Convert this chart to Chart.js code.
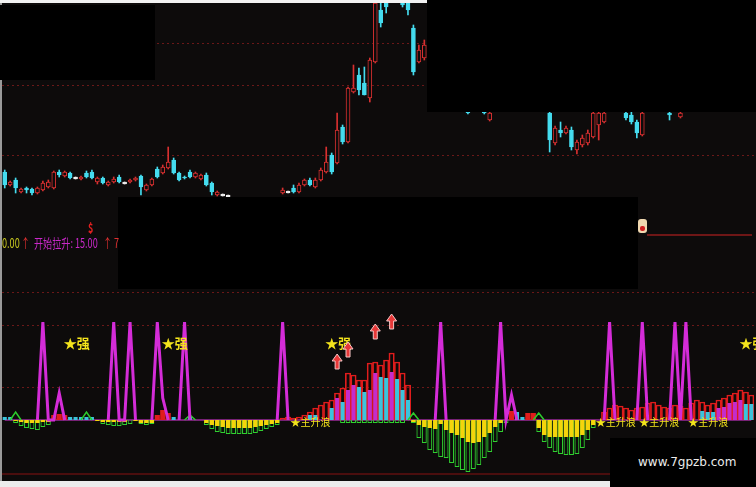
<!DOCTYPE html>
<html>
<head>
<meta charset="utf-8">
<script src="https://cdn.jsdelivr.net/npm/chart.js@4.4.0/dist/chart.umd.min.js"></script>
<style>
  body { margin: 0; width: 756px; height: 487px; overflow: hidden; position: relative; background: #0d0b0b; }
  canvas { position: absolute; left: 0; }
  #priceChart { top: 0; }
  #indChart { top: 290px; }
  .blk { position: absolute; background: #000; }
  .txt { position: absolute; font: 13px "Noto Sans CJK SC", "DejaVu Sans", sans-serif; transform: scaleX(0.7); transform-origin: left center; white-space: nowrap; line-height: 14px; }
</style>
</head>
<body>
<canvas id="priceChart" width="756" height="200"></canvas>
<canvas id="indChart" width="756" height="190"></canvas>

<!-- frame strips and redacted boxes -->
<div class="blk" style="left:0;top:0;width:427px;height:3px;background:#f2f2f2"></div>
<div class="blk" style="left:0;top:3px;width:2px;height:478px;background:#9a9a9a"></div>
<div class="blk" style="left:0;top:5px;width:155px;height:75px"></div>
<div class="blk" style="left:427px;top:0;width:329px;height:112px"></div>
<div class="blk" style="left:118px;top:197px;width:520px;height:92px"></div>

<!-- middle info line -->
<div class="txt" style="left:2px;top:236px;color:#c8c820">0.00</div>
<div class="txt" style="left:21px;top:236px;color:#e03030">↑</div>
<div class="txt" style="left:34px;top:236px;color:#c828c8">开始拉升: 15.00</div>
<div class="txt" style="left:103px;top:236px;color:#e03030">↑</div>
<div class="txt" style="left:114px;top:236px;color:#e03030">7</div>
<div class="txt" style="left:88px;top:221px;color:#e02020;font-weight:bold">$</div>
<div class="blk" style="left:638px;top:219px;width:9px;height:14px;background:#f0d8b0;border-radius:3px"></div>
<div class="blk" style="left:640px;top:226px;width:5px;height:5px;background:#d02020;border-radius:2px"></div>
<div class="blk" style="left:647px;top:234px;width:105px;height:2px;background:#6e1616"></div>

<!-- lower panel bottom line, bottom strip, watermark -->
<div class="blk" style="left:2px;top:473px;width:754px;height:2px;background:#4a0e0e"></div>
<div class="blk" style="left:0;top:481px;width:610px;height:6px;background:#ececec"></div>
<div class="blk" style="left:610px;top:438px;width:146px;height:49px"></div>
<div style="position:absolute;left:638px;top:455px;color:#ececec;font:12px 'DejaVu Sans',sans-serif">www.7gpzb.com</div>

<script>
const N = 138;                       // trading days on screen
const days = Array.from({ length: N }, (_, i) => i + 1);

// --- PRICE PANEL ---
// [day, open, high, low, close]  (days under the black boxes are left out)
const candles = [
  [0, 2.8, 3.0, 1.2, 1.5], [1, 1.5, 1.9, 1.4, 1.8], [2, 2.0, 2.2, 0.7, 1.2], [3, 0.8, 1.2, 0.7, 1.1],
  [4, 1.2, 1.3, 0.7, 1.0], [5, 1.1, 1.2, 0.5, 0.7], [6, 0.7, 1.3, 0.6, 1.2], [7, 1.0, 1.9, 0.9, 1.7],
  [8, 1.3, 2.0, 1.2, 1.8], [9, 1.2, 2.9, 1.1, 2.8], [10, 2.8, 3.0, 2.3, 2.5], [11, 2.4, 2.9, 2.3, 2.8],
  [12, 2.7, 2.8, 2.1, 2.2], [13, 2.2, 2.3, 2.1, 2.2], [14, 2.1, 2.4, 2.0, 2.3], [15, 2.7, 2.9, 2.2, 2.3],
  [16, 2.8, 3.0, 2.1, 2.2], [17, 1.8, 2.3, 1.6, 2.2], [18, 2.2, 2.3, 1.6, 1.7], [19, 1.5, 1.9, 1.4, 1.8],
  [20, 1.8, 2.3, 1.7, 2.1], [21, 2.3, 2.5, 1.7, 1.8], [22, 1.7, 1.8, 1.6, 1.7], [23, 1.8, 2.1, 1.7, 2.0],
  [24, 2.0, 2.3, 1.9, 2.2], [25, 2.4, 2.5, 0.5, 1.3], [26, 1.0, 1.6, 0.9, 1.5], [27, 1.5, 2.2, 1.4, 2.1],
  [28, 3.1, 3.3, 2.2, 2.3], [29, 2.7, 3.5, 2.6, 3.3], [30, 3.2, 5.3, 3.1, 3.8], [31, 4.0, 4.2, 2.6, 2.7],
  [32, 2.7, 2.8, 1.9, 2.0], [33, 2.3, 2.4, 2.1, 2.2], [34, 2.8, 3.0, 2.2, 2.3], [35, 2.3, 2.8, 2.2, 2.7],
  [36, 2.1, 2.6, 2.0, 2.5], [37, 2.5, 2.7, 1.4, 1.5], [38, 1.7, 1.8, 0.5, 0.8], [39, 0.5, 0.9, 0.4, 0.8],
  [40, 0.5, 0.6, 0.4, 0.5], [41, 0.4, 0.5, 0.3, 0.4],
  [51, 0.7, 1.2, 0.6, 1.0], [52, 0.8, 0.9, 0.7, 0.8], [53, 1.2, 1.5, 0.7, 0.8], [54, 0.8, 1.7, 0.7, 1.5],
  [55, 1.5, 2.1, 1.4, 2.0], [56, 2.0, 2.2, 1.4, 1.5], [57, 1.3, 2.2, 1.2, 2.0], [58, 2.0, 3.2, 1.9, 3.0],
  [59, 2.8, 5.3, 2.7, 3.8], [60, 4.5, 4.7, 2.6, 2.8], [61, 3.7, 8.7, 3.6, 7.0], [62, 7.3, 7.5, 5.6, 5.8],
  [63, 5.8, 11.3, 5.7, 11.2], [64, 10.8, 13.5, 10.7, 11.2], [65, 12.5, 13.2, 10.5, 11.0], [66, 11.7, 13.3, 10.5, 10.5],
  [67, 10.2, 14.2, 9.8, 14.0], [68, 13.8, 19.9, 13.7, 19.7], [69, 19.0, 19.7, 17.3, 17.7], [70, 19.8, 20, 18.7, 19.3],
  [73, 19.8, 20, 19.3, 19.5], [74, 19.7, 19.9, 18.5, 19.0], [75, 17.2, 17.5, 12.5, 12.8], [76, 13.8, 15.5, 13.7, 15.0],
  [77, 14.2, 16.0, 14.0, 15.5],
  [85, 8.9, 9.0, 8.6, 8.7], [88, 8.9, 9.0, 8.6, 8.7], [89, 8.0, 8.9, 7.9, 8.7],
  [100, 8.7, 9.5, 4.8, 6.0], [101, 5.7, 7.4, 5.5, 7.2], [102, 7.0, 7.8, 6.3, 6.7], [103, 6.7, 7.4, 6.6, 7.2],
  [104, 7.0, 7.3, 5.0, 5.3], [105, 5.0, 6.0, 4.6, 5.8], [106, 5.5, 6.5, 5.3, 6.2], [107, 5.7, 7.0, 5.5, 6.7],
  [108, 6.3, 9.0, 6.2, 8.7], [109, 7.5, 9.0, 6.0, 8.7], [110, 7.8, 9.0, 7.7, 8.7],
  [114, 8.7, 9.0, 8.0, 8.2], [115, 8.5, 8.8, 7.6, 7.8], [116, 7.8, 8.0, 6.2, 6.7], [117, 6.5, 9.0, 6.4, 8.7],
  [122, 8.7, 8.8, 8.0, 8.5], [124, 8.3, 8.9, 8.2, 8.7]
];
const priceGrid = [4.5, 11.5, 15.7];

// --- INDICATOR PANEL ---  { day: value }
const spikeLine = { 7: 98, 10: 27, 20: 98, 23: 98, 28: 98, 29: 22, 33: 98, 51: 98, 80: 98, 91: 98, 93: 25, 111: 98, 117: 98, 123: 98, 125: 98 };
const greenBumps = { 2: 8, 15: 8, 34: 5, 75: 7, 98: 7 };
const cyanBars = { 0: 3, 1: 3, 12: 3, 13: 3, 14: 3, 15: 3, 16: 3, 31: 3, 34: 3, 56: 5, 57: 5, 60: 12, 62: 18, 65: 33, 66: 28,
  69: 43, 70: 42, 72: 41, 73: 30, 74: 20, 94: 8, 95: 3, 128: 9, 129: 8, 130: 8, 136: 16, 137: 16 };
const magentaBars = { 61: 22, 63: 30, 64: 35, 67: 30, 68: 47, 71: 48, 131: 12, 132: 13, 133: 17, 134: 18, 135: 20 };
const redBars = { 9: 5, 10: 6, 11: 5, 28: 5, 29: 10, 30: 7, 93: 9, 96: 7, 97: 7 };
const redOutline = { 51: 2, 52: 3, 53: 2, 54: 3, 55: 5, 56: 8, 57: 12, 58: 15, 59: 18, 60: 20, 61: 27, 62: 32, 63: 47, 64: 45,
  65: 40, 66: 40, 67: 57, 68: 58, 69: 55, 70: 60, 71: 67, 72: 58, 73: 47, 74: 35,
  110: 8, 111: 12, 112: 15, 113: 14, 114: 12, 115: 10, 116: 12, 117: 13, 118: 17, 119: 18, 120: 15, 121: 13, 122: 12, 123: 15,
  124: 14, 125: 12, 126: 17, 127: 20, 128: 18, 129: 15, 130: 17, 131: 20, 132: 22, 133: 25, 134: 27, 135: 30, 136: 28, 137: 25 };
const yellowBars = { 2: -1, 3: -2, 4: -3, 5: -3, 6: -3, 7: -2, 8: -2, 17: -1, 18: -2, 19: -2, 20: -2, 21: -2, 22: -2, 24: -1,
  25: -3, 26: -3, 27: -3, 37: -3, 38: -5, 39: -6, 40: -7, 41: -8, 42: -8, 43: -8, 44: -8, 45: -8, 46: -7, 47: -6, 48: -5, 49: -4, 50: -3,
  75: -2, 76: -5, 77: -7, 78: -8, 79: -9, 80: -4, 81: -10, 82: -13, 83: -15, 84: -18, 85: -22, 86: -23, 87: -22, 88: -17, 89: -13, 90: -7, 91: -3,
  98: -8, 99: -15, 100: -17, 101: -17, 102: -17, 103: -17, 104: -17, 105: -17, 106: -15, 107: -10, 108: -5 };
const greenOutline = { 2: -3, 3: -6, 4: -8, 5: -9, 6: -10, 7: -7, 8: -5, 18: -4, 19: -5, 20: -6, 21: -6, 22: -5, 23: -4, 25: -4, 26: -5, 27: -4,
  37: -5, 38: -9, 39: -12, 40: -13, 41: -14, 42: -14, 43: -14, 44: -14, 45: -14, 46: -13, 47: -11, 48: -9, 49: -7, 50: -5,
  62: -3, 63: -3, 64: -3, 65: -3, 66: -3, 67: -3, 68: -3, 69: -3, 70: -3, 71: -3, 72: -3, 73: -3,
  75: -3, 76: -18, 77: -23, 78: -30, 79: -33, 80: -37, 81: -38, 82: -43, 83: -47, 84: -50, 85: -52, 86: -49, 87: -45, 88: -38, 89: -32, 90: -22, 91: -12, 92: -3,
  98: -12, 99: -22, 100: -28, 101: -32, 102: -34, 103: -35, 104: -35, 105: -34, 106: -28, 107: -20, 108: -8 };
const baseline = days.map(() => 0);
const indGrid = [33, 95, 128];

// signal labels: day and level
const strongMarks = [11, 29, 59, 135];
const strongLevel = 77;
const riseMarks = [53, 109, 117, 126];
const arrowMarks = [[61, 58], [63, 70], [68, 88], [71, 98]];

// --- HELPERS ---
const BG = '#0d0b0b', RED = '#d83030', CYAN = '#45dcef';
const expand = (obj, fill) => days.map((_, i) => (i in obj ? obj[i] : fill));
const bumpLine = obj => days.map((_, i) => (i in obj ? obj[i] : (i - 1 in obj || i + 1 in obj) ? 0 : null));

const bodies = expand({}, null), wicks = expand({}, null);
const bodyFill = expand({}, null), bodyLine = expand({}, null);
candles.forEach(([i, o, h, l, c]) => {
  const doji = o === c;
  bodies[i] = doji ? [o - 0.08, c + 0.08] : [o, c];
  wicks[i] = [l, h];
  const col = doji ? '#eeeeee' : c > o ? RED : CYAN;
  bodyLine[i] = col;
  bodyFill[i] = c > o ? BG : col;
});

const hiddenY = grid => ({
  display: true,
  afterBuildTicks: s => { s.ticks = grid.map(v => ({ value: v })); },
  afterFit: s => { s.width = 0; },
  ticks: { display: false },
  grid: { color: '#6a1818', lineWidth: 1, drawTicks: false },
  border: { display: false, dash: [2, 3] }
});

const baseOpts = (yMin, yMax, grid) => ({
  responsive: false,
  animation: false,
  layout: { padding: { left: 2, right: 2, top: 0, bottom: 0 } },
  plugins: { legend: { display: false }, tooltip: { enabled: false } },
  scales: {
    x: { display: false },
    y: Object.assign({ min: yMin, max: yMax }, hiddenY(grid))
  }
});

// --- PRICE CHART ---
new Chart(document.getElementById('priceChart'), {
  type: 'bar',
  data: {
    labels: days,
    datasets: [
      { data: bodies, backgroundColor: bodyFill, borderColor: bodyLine, borderWidth: 1, borderSkipped: false, barThickness: 4, grouped: false },
      { data: wicks, backgroundColor: bodyLine, barThickness: 1, grouped: false }
    ]
  },
  options: baseOpts(0, 20, priceGrid)
});

// --- INDICATOR CHART ---
const signalLabels = {
  id: 'signalLabels',
  afterDatasetsDraw(chart) {
    const { ctx, scales: { x, y } } = chart;
    ctx.save();
    ctx.textBaseline = 'middle';
    ctx.fillStyle = '#f4e41c';
    ctx.font = 'bold 13px "Noto Sans CJK SC"';
    strongMarks.forEach(d => ctx.fillText('★强', x.getPixelForValue(d) - 1, y.getPixelForValue(strongLevel)));
    ctx.font = '10px "Noto Sans CJK SC"';
    riseMarks.forEach(d => ctx.fillText('★主升浪', x.getPixelForValue(d) - 3, y.getPixelForValue(-2)));
    arrowMarks.forEach(([d, v]) => {
      const px = x.getPixelForValue(d), py = y.getPixelForValue(v);
      ctx.beginPath();
      ctx.moveTo(px, py - 8);
      ctx.lineTo(px + 5, py - 1);
      ctx.lineTo(px + 2, py - 1);
      ctx.lineTo(px + 2, py + 7);
      ctx.lineTo(px - 2, py + 7);
      ctx.lineTo(px - 2, py - 1);
      ctx.lineTo(px - 5, py - 1);
      ctx.closePath();
      ctx.fillStyle = '#e83838';
      ctx.fill();
      ctx.strokeStyle = '#f6c8c8';
      ctx.lineWidth = 1;
      ctx.stroke();
    });
    ctx.restore();
  }
};

new Chart(document.getElementById('indChart'), {
  type: 'bar',
  data: {
    labels: days,
    datasets: [
      { type: 'line', data: bumpLine(spikeLine), borderColor: '#d42cd8', borderWidth: 3, pointRadius: 0, tension: 0, spanGaps: false },
      { type: 'line', data: bumpLine(greenBumps), borderColor: '#2ccc2c', borderWidth: 1.5, pointRadius: 0, tension: 0, spanGaps: false },
      { data: expand(cyanBars, null), backgroundColor: '#3cc4dc', barPercentage: 0.75, categoryPercentage: 1, grouped: false },
      { data: expand(magentaBars, null), backgroundColor: '#c42ccc', barPercentage: 0.75, categoryPercentage: 1, grouped: false },
      { data: expand(redBars, null), backgroundColor: '#e01c1c', barPercentage: 0.95, categoryPercentage: 1, grouped: false },
      { data: expand(yellowBars, null), backgroundColor: '#f4d40c', barPercentage: 0.8, categoryPercentage: 1, grouped: false },
      { data: expand(greenOutline, null), backgroundColor: 'transparent', borderColor: '#30d030', borderWidth: 1, barPercentage: 0.9, categoryPercentage: 1, grouped: false },
      { data: expand(redOutline, null), backgroundColor: 'transparent', borderColor: '#e01c1c', borderWidth: 1, barPercentage: 1, categoryPercentage: 1, grouped: false },
      { type: 'line', data: baseline, borderColor: '#9a2a9a', borderWidth: 1.5, pointRadius: 0 }
    ]
  },
  options: baseOpts(-60, 130, indGrid),
  plugins: [signalLabels]
});
</script>
</body>
</html>
